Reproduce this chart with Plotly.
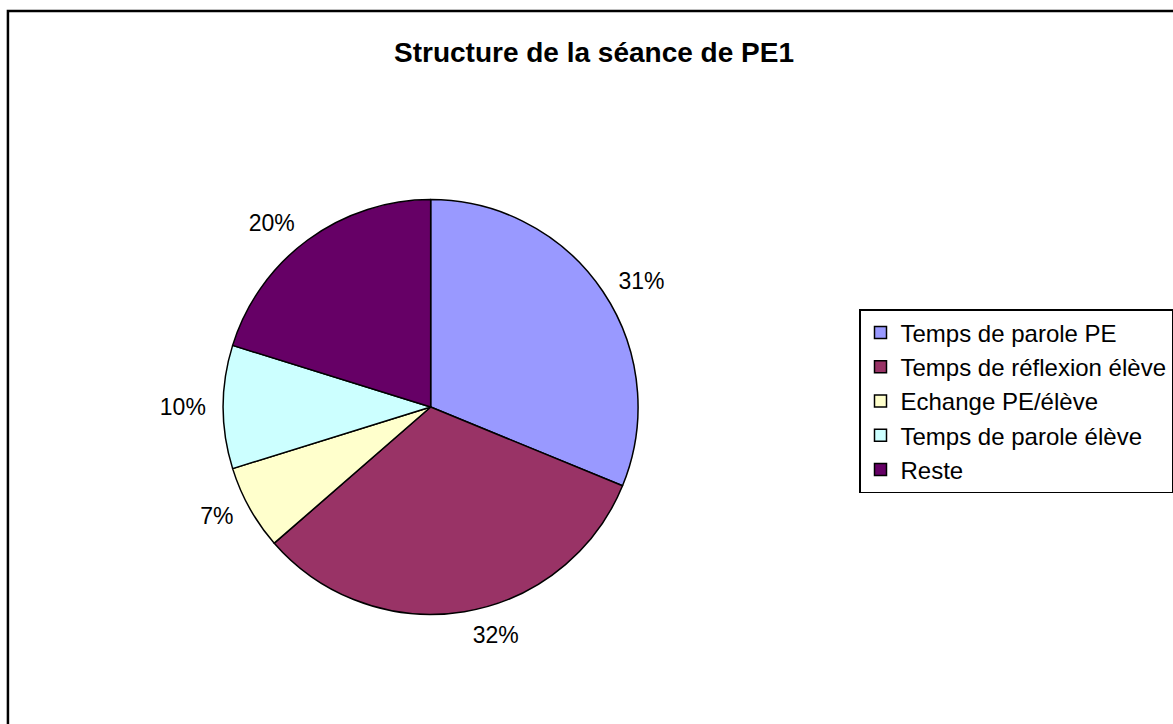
import plotly.graph_objects as go

categories = ["Temps de parole PE", "Temps de réflexion élève", "Echange PE/élève",
              "Temps de parole élève", "Reste"]
values = [31.2, 32.4, 6.6, 9.6, 20.2]
colors = ["#9999FF", "#993366", "#FFFFCC", "#CCFFFF", "#660066"]

W, H = 1173, 724
cx, cy, r = 434, 407, 209      # pie centre / radius in px
r_lab = 220                     # radius used to place the % labels


def dom(rad):
    return dict(x=[(cx - rad) / W, (cx + rad) / W],
                y=[(H - cy - rad) / H, (H - cy + rad) / H])


font = "Liberation Sans, Arial"

fig = go.Figure()
# visible pie
fig.add_trace(go.Pie(
    labels=categories, values=values, sort=False,
    direction="clockwise", rotation=0,
    marker=dict(colors=colors, line=dict(color="black", width=1.5)),
    textinfo="none", domain=dom(r), showlegend=True,
))
# invisible, slightly larger pie used only to put the % labels a bit away from the edge
fig.add_trace(go.Pie(
    labels=categories, values=values, sort=False,
    direction="clockwise", rotation=0,
    marker=dict(colors=["rgba(0,0,0,0)"] * len(values), line=dict(width=0)),
    textposition="outside", texttemplate="%{percent:.0%}",
    textfont=dict(family=font, size=23, color="black"),
    domain=dom(r_lab), showlegend=False, hoverinfo="skip",
))

# chart area border
fig.add_shape(type="rect", xref="paper", yref="paper",
              x0=8 / W, x1=1.02, y0=-0.02, y1=1 - 11 / H,
              line=dict(color="black", width=2.5))

fig.update_layout(
    width=W, height=H,
    margin=dict(l=0, r=0, t=0, b=0),
    paper_bgcolor="white",
    plot_bgcolor="white",
    title=dict(text="<b>Structure de la séance de PE1</b>",
               x=594 / W, xanchor="center", y=1 - 52 / H, yanchor="middle",
               font=dict(family=font, size=28, color="black")),
    font=dict(family=font, color="black"),
    legend=dict(x=866 / W, y=1 - 309 / H, xanchor="left", yanchor="top",
                bordercolor="black", borderwidth=1.5, bgcolor="white",
                font=dict(size=24), itemclick=False),
)

fig.write_html("out.html", config={"displayModeBar": False},
               post_script="document.body.style.margin = '0';")
